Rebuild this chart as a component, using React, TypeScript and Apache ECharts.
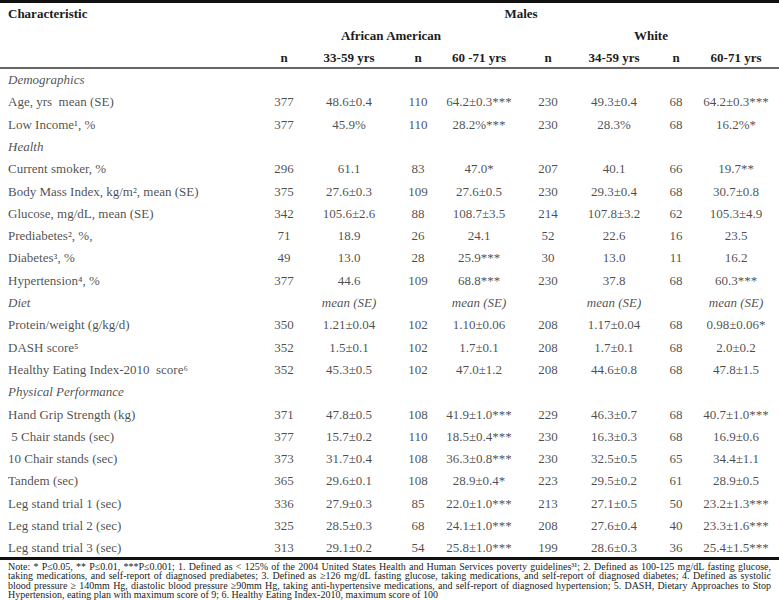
import React, { useEffect, useRef } from "react";
import * as echarts from "echarts";

const rowLabels = [
  "Demographics",
  "Age, yrs  mean (SE)",
  "Low Income¹, %",
  "Health",
  "Current smoker, %",
  "Body Mass Index, kg/m², mean (SE)",
  "Glucose, mg/dL, mean (SE)",
  "Prediabetes², %,",
  "Diabetes³, %",
  "Hypertension⁴, %",
  "Diet",
  "Protein/weight (g/kg/d)",
  "DASH score⁵",
  "Healthy Eating Index-2010  score⁶",
  "Physical Performance",
  "Hand Grip Strength (kg)",
  " 5 Chair stands (sec)",
  "10 Chair stands (sec)",
  "Tandem (sec)",
  "Leg stand trial 1 (sec)",
  "Leg stand trial 2 (sec)",
  "Leg stand trial 3 (sec)",
];
const sectionRows = [0, 3, 10, 14];

const aaYoungN = ["", "377", "377", "", "296", "375", "342", "71", "49", "377", "", "350", "352", "352", "", "371", "377", "373", "365", "336", "325", "313"];
const aaYoungVal = ["", "48.6±0.4", "45.9%", "", "61.1", "27.6±0.3", "105.6±2.6", "18.9", "13.0", "44.6", "mean (SE)", "1.21±0.04", "1.5±0.1", "45.3±0.5", "", "47.8±0.5", "15.7±0.2", "31.7±0.4", "29.6±0.1", "27.9±0.3", "28.5±0.3", "29.1±0.2"];
const aaOldN = ["", "110", "110", "", "83", "109", "88", "26", "28", "109", "", "102", "102", "102", "", "108", "110", "108", "108", "85", "68", "54"];
const aaOldVal = ["", "64.2±0.3***", "28.2%***", "", "47.0*", "27.6±0.5", "108.7±3.5", "24.1", "25.9***", "68.8***", "mean (SE)", "1.10±0.06", "1.7±0.1", "47.0±1.2", "", "41.9±1.0***", "18.5±0.4***", "36.3±0.8***", "28.9±0.4*", "22.0±1.0***", "24.1±1.0***", "25.8±1.0***"];
const whYoungN = ["", "230", "230", "", "207", "230", "214", "52", "30", "230", "", "208", "208", "208", "", "229", "230", "230", "223", "213", "208", "199"];
const whYoungVal = ["", "49.3±0.4", "28.3%", "", "40.1", "29.3±0.4", "107.8±3.2", "22.6", "13.0", "37.8", "mean (SE)", "1.17±0.04", "1.7±0.1", "44.6±0.8", "", "46.3±0.7", "16.3±0.3", "32.5±0.5", "29.5±0.2", "27.1±0.5", "27.6±0.4", "28.6±0.3"];
const whOldN = ["", "68", "68", "", "66", "68", "62", "16", "11", "68", "", "68", "68", "68", "", "68", "68", "65", "61", "50", "40", "36"];
const whOldVal = ["", "64.2±0.3***", "16.2%*", "", "19.7**", "30.7±0.8", "105.3±4.9", "23.5", "16.2", "60.3***", "mean (SE)", "0.98±0.06*", "2.0±0.2", "47.8±1.5", "", "40.7±1.0***", "16.9±0.6", "34.4±1.1", "28.9±0.5", "23.2±1.3***", "23.3±1.6***", "25.4±1.5***"];

const columnHeaders = ["n", "33-59 yrs", "n", "60 -71 yrs", "n", "34-59 yrs", "n", "60-71 yrs"];
const topHeader = "Characteristic";
const sexHeader = "Males";
const groupHeaders = ["African American", "White"];

const noteLines = [
  "Note: * P≤0.05, ** P≤0.01, ***P≤0.001; 1. Defined as < 125% of the 2004 United States Health and Human Services poverty guidelines³¹; 2. Defined as 100-125 mg/dL fasting glucose,",
  "taking medications, and self-report of diagnosed prediabetes; 3. Defined as ≥126 mg/dL fasting glucose, taking medications, and self-report of diagnosed diabetes; 4. Defined as systolic",
  "blood pressure ≥ 140mm Hg, diastolic blood pressure ≥90mm Hg, taking anti-hypertensive medications, and self-report of diagnosed hypertension; 5. DASH, Dietary Approaches to Stop",
  "Hypertension, eating plan with maximum score of 9; 6. Healthy Eating Index-2010, maximum score of 100",
];

const W = 779;
const H = 600;
const FONT = "Liberation Serif";
const TXT = "#1c1c1c";
const colX = [284, 349, 418, 479, 548, 614, 676, 736];
const groupX = [391, 651];
const columns = [aaYoungN, aaYoungVal, aaOldN, aaOldVal, whYoungN, whYoungVal, whOldN, whOldVal];

const NOTE_SIZE = 10;
const NOTE_LEFT = 8;
const NOTE_RIGHT = 771;

function justifyLine(line: string, justify: boolean, y: number, ctx: CanvasRenderingContext2D | null) {
  const style = { fontFamily: FONT, fontSize: NOTE_SIZE, fill: TXT, textAlign: "left", textVerticalAlign: "middle" };
  if (!justify || !ctx) {
    return [{ type: "text", x: NOTE_LEFT, y, style: { ...style, text: line } }];
  }
  const words = line.split(" ");
  const widths = words.map((w) => ctx.measureText(w).width);
  const total = widths.reduce((a, b) => a + b, 0);
  const gap = (NOTE_RIGHT - NOTE_LEFT - total) / (words.length - 1);
  let x = NOTE_LEFT;
  return words.map((w, i) => {
    const el = { type: "text", x, y, style: { ...style, text: w } };
    x += widths[i] + gap;
    return el;
  });
}

export default function App() {
  const ref = useRef<HTMLDivElement>(null);
  useEffect(() => {
    if (!ref.current) return;
    const chart = echarts.init(ref.current, null, { renderer: "svg" });
    const rowTop = 68.4;
    const rowH = 22.3;
    const nRows = rowLabels.length;

    const canvas = document.createElement("canvas");
    const ctx = canvas.getContext("2d");
    if (ctx) ctx.font = `${NOTE_SIZE}px "${FONT}"`;

    const labelSeries: any = {
      type: "scatter",
      silent: true,
      symbolSize: 1,
      itemStyle: { color: "rgba(0,0,0,0)" },
      data: rowLabels.map((t, i) => ({
        value: [8, i, t],
        label: sectionRows.includes(i) ? { fontStyle: "italic" } : undefined,
      })),
      label: {
        show: true,
        position: "inside",
        align: "left",
        verticalAlign: "middle",
        fontFamily: FONT,
        fontSize: 13,
        color: TXT,
        formatter: (p: any) => p.value[2],
      },
    };

    const cellSeries = columns.map((col, c) => ({
      type: "scatter",
      silent: true,
      symbolSize: 1,
      itemStyle: { color: "rgba(0,0,0,0)" },
      data: col
        .map((t, i) => ({
          value: [colX[c], i, t],
          label: t === "mean (SE)" ? { fontStyle: "italic" } : undefined,
        }))
        .filter((d) => d.value[2] !== ""),
      label: {
        show: true,
        position: "inside",
        align: "center",
        verticalAlign: "middle",
        fontFamily: FONT,
        fontSize: 13,
        color: TXT,
        formatter: (p: any) => p.value[2],
      },
    }));

    const hdrStyle = { fontFamily: FONT, fontSize: 13, fontWeight: "bold", fill: TXT, textVerticalAlign: "middle" };
    const noteEls: any[] = [];
    noteLines.forEach((t, i) => {
      noteEls.push(...justifyLine(t, i < noteLines.length - 1, 566 + i * 9.5, ctx));
    });
    const graphics: any[] = [
      { type: "rect", shape: { x: 0, y: 0, width: W, height: 3 }, style: { fill: "#111" } },
      { type: "rect", shape: { x: 0, y: 67.2, width: W, height: 1.6 }, style: { fill: "#333" } },
      { type: "rect", shape: { x: 0, y: 557, width: W, height: 3 }, style: { fill: "#111" } },
      { type: "text", x: 8, y: 13, style: { ...hdrStyle, text: topHeader, textAlign: "left" } },
      { type: "text", x: 521, y: 13, style: { ...hdrStyle, text: sexHeader, textAlign: "center" } },
      ...groupHeaders.map((g, i) => ({ type: "text", x: groupX[i], y: 35, style: { ...hdrStyle, text: g, textAlign: "center" } })),
      ...columnHeaders.map((h, i) => ({ type: "text", x: colX[i], y: 57, style: { ...hdrStyle, text: h, textAlign: "center" } })),
      ...noteEls,
    ];

    chart.setOption({
      animation: false,
      grid: { left: 0, right: 0, top: rowTop, height: rowH * nRows },
      xAxis: { type: "value", min: 0, max: W, show: false },
      yAxis: { type: "value", min: -0.5, max: nRows - 0.5, inverse: true, show: false },
      series: [labelSeries, ...cellSeries],
      graphic: graphics,
    });
    return () => chart.dispose();
  }, []);
  return <div ref={ref} style={{ position: "absolute", left: 0, top: 0, width: W, height: H, background: "#fff" }} />;
}
